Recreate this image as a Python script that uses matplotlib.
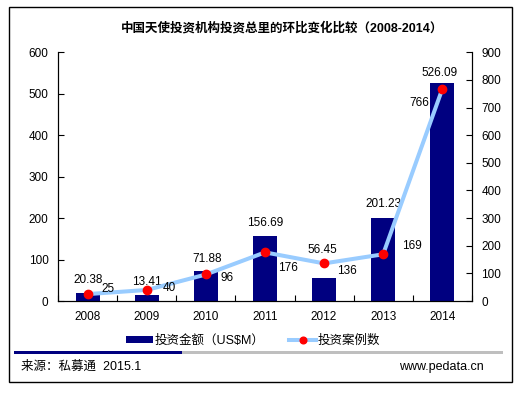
import numpy as np
import matplotlib
matplotlib.use("Agg")
import matplotlib.pyplot as plt
from matplotlib.patches import Rectangle

plt.rcParams['font.family'] = ['Liberation Sans', 'Noto Sans CJK SC', 'DejaVu Sans']

years = ['2008', '2009', '2010', '2011', '2012', '2013', '2014']
amounts = [20.38, 13.41, 71.88, 156.69, 56.45, 201.23, 526.09]
cases = [25, 40, 96, 176, 136, 169, 766]
amount_labels = ['20.38', '13.41', '71.88', '156.69', '56.45', '201.23', '526.09']
case_labels = ['25', '40', '96', '176', '136', '169', '766']

# label offsets in pixels (style)
bar_off = [(0, 12.5), (0, 13), (1, 12), (0, 12.7), (-2, 27.6), (0, 13.3), (-3, 10)]
line_off = [(20, 5), (22, 2), (21, -4), (22.5, -15.6), (22.6, -7.6), (28.6, 8.3), (-23, -13.4)]

W, H = 523, 393
fig = plt.figure(figsize=(W / 100, H / 100), dpi=100)
fig.patch.set_facecolor('white')

x0, x1, yt, yb = 58.3, 471.7, 52.3, 301
ax = fig.add_axes([x0 / W, 1 - yb / H, (x1 - x0) / W, (yb - yt) / H])
x = np.arange(len(years))
bars = ax.bar(x, amounts, width=0.41, color='#000080', label='投资金额（US$M）', zorder=2)
ax.set_xlim(-0.5, len(years) - 0.5)
ax.set_ylim(0, 600)
ax.set_yticks(np.arange(0, 601, 100))
ax.set_xticks(x)
ax.set_xticklabels(years)
ax.set_xticks(np.arange(-0.5, len(years), 1), minor=True)
ax.tick_params(axis='x', which='major', length=0, pad=7, labelsize=8.5)
ax.tick_params(axis='x', which='minor', direction='in', length=4, width=0.8)
ax.tick_params(axis='y', direction='in', length=4, width=0.8, pad=7, labelsize=8.5)
for s in ['left', 'bottom', 'right']:
    ax.spines[s].set_linewidth(0.8)
ax.spines['top'].set_visible(False)

ax2 = ax.twinx()
ax2.set_ylim(0, 900)
ax2.set_yticks(np.arange(0, 901, 100))
ax2.tick_params(axis='y', direction='in', length=4, width=0.8, pad=7, labelsize=8.5)
ax2.spines['top'].set_visible(False)
ax2.spines['right'].set_linewidth(0.8)
line, = ax2.plot(x, cases, color='#99CCFF', lw=2.9, marker='o', markersize=6,
                 markerfacecolor='#FF0000', markeredgecolor='#FF0000',
                 label='投资案例数', zorder=3)

for i in range(len(years)):
    ax.annotate(amount_labels[i], (x[i], amounts[i]), xytext=bar_off[i],
                textcoords='offset pixels', ha='center', va='center', fontsize=8.5)
    ax2.annotate(case_labels[i], (x[i], cases[i]), xytext=line_off[i],
                 textcoords='offset pixels', ha='center', va='center', fontsize=8.5)

fig.text(281.7 / W, 1 - 27.7 / H, '中国天使投资机构投资总里的环比变化比较（2008-2014）',
         ha='center', va='center', fontsize=9, fontweight='bold')

fig.legend(handles=[bars, line], loc='center', bbox_to_anchor=(253.3 / W, 1 - 341 / H),
           ncol=2, frameon=False, fontsize=9, handlelength=2.1, handleheight=0.48,
           handletextpad=0.15, columnspacing=2.0, borderpad=0, borderaxespad=0,
           markerscale=0.8)

# separator bar
fig.add_artist(Rectangle((14 / W, 1 - 354.3 / H), (181.7 - 14) / W, 3.6 / H,
                         transform=fig.transFigure, color='#000080', lw=0))
fig.add_artist(Rectangle((181.7 / W, 1 - 354.3 / H), (503.3 - 181.7) / W, 3.6 / H,
                         transform=fig.transFigure, color='#BFBFBF', lw=0))

fig.text(20.7 / W, 1 - 366.7 / H, '来源：私募通  2015.1', ha='left', va='center', fontsize=9)
fig.text(483.3 / W, 1 - 366.7 / H, 'www.pedata.cn', ha='right', va='center', fontsize=9)

# outer border
fig.add_artist(Rectangle((9.3 / W, 1 - 382.3 / H), (511.7 - 9.3) / W, (382.3 - 6.7) / H,
                         transform=fig.transFigure, fill=False, edgecolor='black', lw=1))

fig.savefig('out.png', dpi=100, facecolor='white')
